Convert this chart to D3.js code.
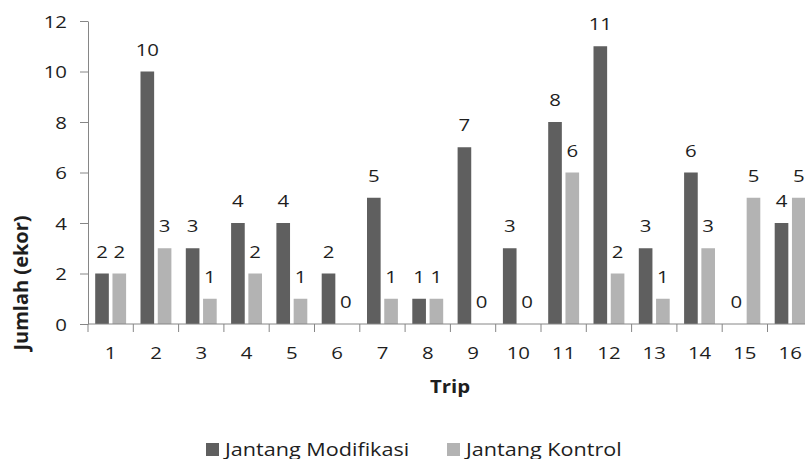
<!DOCTYPE html>
<html>
<head>
<meta charset="utf-8">
<script src="https://cdn.jsdelivr.net/npm/d3@7"></script>
<style>
  html, body { margin: 0; padding: 0; background: #fff; }
  svg { display: block; font-family: "Open Sans", Lato, sans-serif; }
</style>
</head>
<body>
<svg id="chart" width="805" height="459"></svg>
<script>
// Trip numbers and catch counts per trap type
const trips = ["1","2","3","4","5","6","7","8","9","10","11","12","13","14","15","16"];
const seriesNames = ["Jantang Modifikasi", "Jantang Kontrol"];
const modifikasi = [2, 10, 3, 4, 4, 2, 5, 1, 7, 3, 8, 11, 3, 6, 0, 4];
const kontrol    = [2, 3, 1, 2, 1, 0, 1, 1, 0, 0, 6, 2, 1, 3, 5, 5];
const yTicks = [0, 2, 4, 6, 8, 10, 12];
const colors = ["#5f5f5f", "#b3b3b3"];

const svg = d3.select("#chart");
const plotLeft = 88, plotTop = 21, plotBottom = 324;
const step = 45.3;
const sx = 1.2;          // horizontal widening of the chart's lettering
const textColor = "#1e1e1e";
const axisColor = "#868686";

// place a text at (px, py), widened horizontally around its anchor
const placeText = (px, py) => `translate(${px},${py}) scale(${sx},1)`;

const x = d3.scaleBand()
  .domain(trips)
  .range([plotLeft, plotLeft + step * trips.length])
  .paddingInner(0).paddingOuter(0);

const xInner = d3.scaleBand()
  .domain(seriesNames)
  .range([7.2, x.bandwidth() - 7.2])
  .paddingInner(0.21);

const y = d3.scaleLinear().domain([0, 12]).range([plotBottom, plotTop]);

const color = d3.scaleOrdinal().domain(seriesNames).range(colors);

const rows = trips.map((t, i) => ({
  trip: t,
  values: [
    { key: seriesNames[0], value: modifikasi[i] },
    { key: seriesNames[1], value: kontrol[i] }
  ]
}));

// Bars
const groups = svg.append("g").selectAll("g")
  .data(rows).join("g")
  .attr("transform", d => `translate(${x(d.trip)},0)`);

groups.selectAll("rect")
  .data(d => d.values).join("rect")
  .attr("x", d => xInner(d.key))
  .attr("width", xInner.bandwidth())
  .attr("y", d => y(d.value))
  .attr("height", d => y(0) - y(d.value))
  .attr("fill", d => color(d.key));

// Value labels above each bar
groups.selectAll("text")
  .data(d => d.values).join("text")
  .attr("transform", d => placeText(xInner(d.key) + xInner.bandwidth() / 2, y(d.value) - 16))
  .attr("text-anchor", "middle")
  .attr("font-size", 17)
  .attr("fill", textColor)
  .text(d => d.value);

// Y axis
const yAxis = svg.append("g")
  .attr("transform", `translate(${plotLeft},0)`)
  .call(d3.axisLeft(y).tickValues(yTicks).tickSize(8).tickPadding(12).tickSizeOuter(0));
yAxis.select(".domain").attr("stroke", axisColor);
yAxis.selectAll(".tick line").attr("stroke", axisColor);
yAxis.selectAll(".tick text")
  .attr("x", null).attr("dy", null)
  .attr("transform", placeText(-21, 6))
  .attr("font-size", 17).attr("fill", textColor)
  .attr("font-family", "'Open Sans', Lato, sans-serif");

// X axis with tick marks between categories
const xAxisG = svg.append("g").attr("transform", `translate(0,${plotBottom})`);
xAxisG.append("line")
  .attr("x1", x.range()[0]).attr("x2", x.range()[1])
  .attr("stroke", axisColor);
xAxisG.selectAll("line.sep")
  .data(trips).join("line")
  .attr("class", "sep")
  .attr("x1", d => x(d)).attr("x2", d => x(d))
  .attr("y1", 0).attr("y2", 8)
  .attr("stroke", axisColor);
xAxisG.selectAll("text")
  .data(trips).join("text")
  .attr("transform", d => placeText(x(d) + x.bandwidth() / 2, 35))
  .attr("text-anchor", "middle")
  .attr("font-size", 17)
  .attr("fill", textColor)
  .text(d => d);

// Axis titles
svg.append("text")
  .attr("transform", placeText(450, 393))
  .attr("text-anchor", "middle")
  .attr("font-size", 17).attr("font-weight", "bold").attr("fill", textColor)
  .text("Trip");

svg.append("text")
  .attr("transform", "translate(28,283) rotate(-90)")
  .attr("text-anchor", "middle")
  .attr("font-size", 20).attr("font-weight", "bold").attr("fill", textColor)
  .text("Jumlah (ekor)");

// Legend
const legendX = [206, 447];
const legend = svg.append("g").selectAll("g")
  .data(seriesNames).join("g")
  .attr("transform", (d, i) => `translate(${legendX[i]},443)`);
legend.append("rect")
  .attr("width", 13).attr("height", 13)
  .attr("fill", d => color(d));
legend.append("text")
  .attr("transform", placeText(19, 12.5))
  .attr("font-size", 18).attr("fill", textColor)
  .text(d => d);
</script>
</body>
</html>
